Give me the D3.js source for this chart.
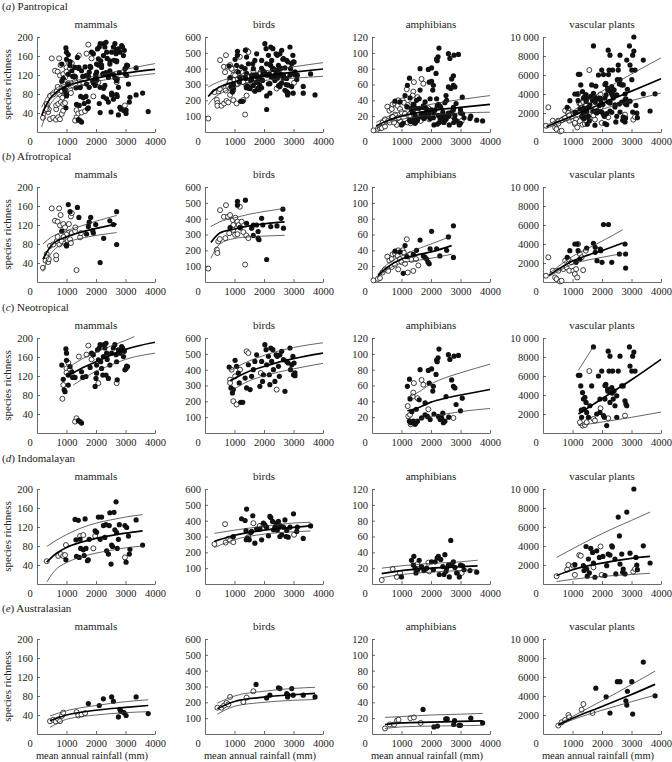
<!DOCTYPE html>
<html><head><meta charset="utf-8">
<script src="https://cdn.jsdelivr.net/npm/d3@7"></script>
<style>
body{margin:0;background:#fff;}
svg text{font-family:"Liberation Serif","Times New Roman",serif;fill:#222;}
</style></head><body><svg id="c" width="672" height="762"></svg>
<script>
// ---------- labels ----------
const regionNames = ["Pantropical","Afrotropical","Neotropical","Indomalayan","Australasian"];
const regionLetters = ["a","b","c","d","e"];
const taxa = ["mammals","birds","amphibians","vascular plants"];
const xTickValues = [1000,2000,3000,4000];
const mammalTicks = [40,80,120,160,200];
const birdTicks = [100,200,300,400,500,600];
const amphTicks = [20,40,60,80,100,120];
const plantTicks = [2000,4000,6000,8000,10000];
const yMaxes = [200,600,120,10000];

// ---------- Afrotropical ----------
const afroMammalsOpen = [[200,30],[330,59],[330,52],[290,45],[380,42],[400,48],[440,76],[550,79],[500,155],[610,129],[650,48],[650,56],[670,86],[700,127],[750,155],[760,79],[780,119],[800,141],[840,86],[890,122],[950,115],[950,81],[1040,86],[1060,103],[1080,122],[1120,90],[1150,82],[1150,138],[1180,145],[1180,103],[1290,107],[1340,25],[1460,94],[1490,103],[1300,115],[1000,100],[900,95],[700,95]];
const afroMammalsFilled = [[840,107],[1000,79],[1000,76],[1060,163],[1120,148],[1370,157],[1420,136],[1680,101],[1820,136],[1770,126],[1740,117],[1890,108],[1910,103],[1990,121],[2140,41],[2260,92],[2470,129],[2590,121],[2700,148],[2700,79]];
const afroMammalsFit = [[200,48],[500,78],[1000,95],[1500,105],[2000,113],[2700,122]];
const afroMammalsUpper = [[200,80],[500,95],[1000,108],[1500,118],[2000,128],[2700,140]];
const afroMammalsLower = [[200,22],[500,62],[1000,83],[1500,92],[2000,98],[2700,104]];

const afroBirdsOpen = [[110,85],[400,204],[420,183],[450,256],[500,271],[510,454],[640,412],[710,485],[780,412],[850,423],[940,392],[1030,406],[1100,381],[1180,475],[1140,360],[1200,344],[960,329],[820,308],[690,277],[1020,298],[1100,302],[1300,315],[1400,294],[1470,277],[1360,110],[1240,381],[960,360]];
const afroBirdsFilled = [[850,344],[1100,510],[1100,485],[1370,517],[1410,371],[1580,340],[1640,360],[1750,360],[1800,319],[1800,277],[1830,267],[1640,294],[1920,402],[1960,360],[2090,142],[2230,350],[2440,354],[2580,402],[2640,460],[2660,340],[1180,344]];
const afroBirdsFit = [[200,250],[500,310],[1000,335],[1500,355],[2000,368],[2700,380]];
const afroBirdsUpper = [[200,350],[500,380],[1000,405],[1500,428],[2000,445],[2700,465]];
const afroBirdsLower = [[200,150],[500,240],[1000,275],[1500,285],[2000,290],[2700,295]];

const afroAmphOpen = [[50,2],[200,4],[270,5],[360,12],[440,16],[520,32],[590,27],[670,29],[700,35],[780,36],[870,33],[890,40],[950,29],[1000,25],[1040,40],[1080,37],[1120,23],[1180,54],[1210,12],[1290,35],[1340,28],[1400,14],[1490,29],[1570,21],[670,19],[780,22],[890,16],[550,14]];
const afroAmphFilled = [[780,39],[950,38],[1060,11],[1120,46],[1180,32],[1400,35],[1630,53],[1740,33],[1800,31],[1850,29],[1900,25],[1940,23],[1970,42],[2020,64],[2190,42],[2300,33],[2530,40],[2590,57],[2760,71],[2760,31],[1510,40]];
const afroAmphFit = [[200,8],[500,18],[1000,29],[1500,34],[2000,38],[2700,46]];
const afroAmphUpper = [[200,10],[500,22],[1000,33],[1500,41],[2000,48],[2700,58]];
const afroAmphLower = [[200,6],[500,15],[1000,24],[1500,27],[2000,30],[2700,35]];

const afroPlantsOpen = [[100,660],[180,2600],[330,1190],[410,480],[460,300],[580,60],[630,130],[520,1190],[690,1360],[800,1540],[890,1190],[750,2250],[860,2420],[970,2070],[1030,1190],[1080,840],[1120,1360],[1190,4000],[1250,2950],[1310,2600],[1360,1250],[1450,3300],[1160,480]];
const afroPlantsFilled = [[820,2600],[910,3300],[1080,4000],[1160,4000],[1190,3300],[1250,2420],[1120,2070],[1480,3580],[1710,4080],[1770,3120],[1830,2250],[1940,3470],[1960,3300],[2000,2070],[2050,6050],[2220,6050],[2330,2070],[2590,2950],[2780,4000],[2800,2950],[2800,1470],[1770,3650]];
const afroPlantsFit = [[200,700],[500,1300],[1000,2200],[1500,2800],[2000,3300],[2700,4100]];
const afroPlantsUpper = [[200,900],[500,1600],[1000,2700],[1500,3500],[2000,4300],[2700,5500]];
const afroPlantsLower = [[200,600],[500,1100],[1000,1900],[1500,2300],[2000,2600],[2700,3000]];

// ---------- Neotropical ----------
const neoMammalsOpen = [[860,72],[890,101],[1000,136],[1060,148],[1120,133],[1000,127],[1340,31],[1290,24],[1420,161],[1680,165],[1740,184],[1850,155],[2080,105],[2700,105],[1180,122]];
const neoMammalsFilled = [[840,143],[890,113],[920,91],[950,87],[980,177],[1000,168],[1060,101],[1060,122],[1120,140],[1180,129],[1210,117],[1290,117],[1400,26],[1460,24],[1510,21],[1510,129],[1550,117],[1660,119],[1800,138],[1850,168],[1910,165],[1970,98],[2000,115],[2020,126],[2020,143],[2050,175],[2080,154],[2110,179],[2140,186],[2160,150],[2190,136],[2230,122],[2250,161],[2270,186],[2300,179],[2340,189],[2340,122],[2360,168],[2380,155],[2420,115],[2470,143],[2530,168],[2590,179],[2640,186],[2680,165],[2700,150],[2720,112],[2760,175],[2810,168],[2870,182],[2900,179],[2930,161],[2960,172],[2980,133],[3020,136],[3040,141],[3070,140],[1000,153]];
const neoMammalsFit = [[1000,119],[1500,136],[2000,150],[2500,164],[3000,176],[4000,191]];
const neoMammalsUpper = [[1000,135],[1500,155],[2000,170],[2500,183],[3000,195],[3300,203]];
const neoMammalsLower = [[1230,101],[1500,112],[2000,130],[2500,143],[3000,155],[4000,168]];

const neoBirdsOpen = [[850,337],[850,316],[900,400],[960,201],[1070,180],[1190,400],[1410,516],[1470,505],[1890,379],[2430,274],[1020,358]];
const neoBirdsFilled = [[820,417],[880,285],[930,253],[960,274],[1020,459],[1070,421],[1130,379],[1160,316],[1210,194],[1280,194],[1360,347],[1410,285],[1470,431],[1530,274],[1580,358],[1640,400],[1690,452],[1750,494],[1860,295],[1920,452],[1950,326],[1980,368],[2030,558],[2070,526],[2090,431],[2150,484],[2180,368],[2200,305],[2230,537],[2260,452],[2300,526],[2320,400],[2370,326],[2410,494],[2450,484],[2490,421],[2520,358],[2540,494],[2600,516],[2660,463],[2710,263],[2770,452],[2820,442],[2880,537],[2900,400],[2940,431],[2980,484],[3000,368],[3020,442],[3050,362],[3050,380]];
const neoBirdsFit = [[850,330],[1000,345],[1500,390],[2000,420],[2500,448],[3000,470],[4000,505]];
const neoBirdsUpper = [[850,395],[1000,410],[1500,455],[2000,490],[2500,518],[3000,540],[4000,570]];
const neoBirdsLower = [[850,265],[1000,280],[1500,330],[2000,360],[2500,385],[3000,405],[4000,440]];

const neoAmphOpen = [[1210,34],[1230,21],[1290,23],[1310,11],[1400,51],[1380,46],[1420,63],[1540,44],[1680,67],[1740,61],[1910,30],[2760,19]];
const neoAmphFilled = [[1200,59],[1270,68],[1290,43],[1270,15],[1320,13],[1400,15],[1460,11],[1490,13],[1540,15],[1600,42],[1630,80],[1680,19],[1800,23],[1880,21],[1910,79],[1940,63],[1970,17],[2020,81],[2060,53],[2080,59],[2170,74],[2190,92],[2210,90],[2240,95],[2270,106],[2310,17],[2360,19],[2420,13],[2510,46],[2590,99],[2640,93],[2700,67],[2760,59],[2780,97],[2810,57],[2850,36],[2930,98],[3000,28],[3060,44],[2470,15],[2250,21],[1350,27],[1500,30],[2400,25],[2100,24],[1800,38],[2600,20]];
const neoAmphFit = [[1200,28],[1500,31],[2000,39],[2500,44],[3000,48],[4000,55]];
const neoAmphUpper = [[1200,45],[1500,50],[2000,62],[2500,70],[3000,76],[4000,87]];
const neoAmphLower = [[1450,16],[2000,21],[2500,24],[3000,27],[4000,31]];

const neoPlantsOpen = [[1250,1130],[1340,780],[1420,850],[1570,6520],[1710,1480],[1760,1300],[1950,2600],[2210,1550],[2780,1830],[1480,1130]];
const neoPlantsFilled = [[1250,6070],[1310,1650],[1280,4960],[1340,4260],[1370,3570],[1390,2520],[1420,3740],[1460,3220],[1480,2170],[1540,1650],[1590,2870],[1650,4960],[1710,9060],[1880,6000],[1930,3570],[1990,6520],[2050,1830],[2080,1650],[2100,3570],[2130,5130],[2160,780],[2190,4610],[2210,8610],[2240,6520],[2270,8090],[2290,4260],[2330,4780],[2360,6520],[2380,3570],[2410,4430],[2440,2870],[2500,1650],[2550,6520],[2610,8090],[2670,4960],[2720,4960],[2780,3390],[2810,3040],[2840,2870],[2930,9060],[2950,7040],[3010,6520],[3040,8090],[3080,8520],[3120,6520],[1930,2170],[1820,2000],[2270,3220],[2500,3910],[1200,6070],[1300,2400],[2100,5000],[2200,4400],[2350,4200]];
const neoPlantsFit = [[1200,2000],[1600,2800],[2000,3600],[2500,4600],[3000,5600],[4000,7750]];
const neoPlantsUpper = [[1200,6600],[1700,9060]];
const neoPlantsLower = [[1200,780],[2000,1150],[3000,1650],[4000,2200]];

// ---------- Indomalayan ----------
const indoMammalsOpen = [[330,48],[720,59],[810,63],[890,59],[980,82],[950,61],[1460,101],[1570,103],[1910,75],[1970,101],[2980,56]];
const indoMammalsFilled = [[980,51],[1290,136],[1340,58],[1400,134],[1430,56],[1320,93],[1460,94],[1480,75],[1570,72],[1630,137],[1660,75],[1710,49],[1740,51],[1770,94],[1970,112],[2020,109],[2080,141],[2140,94],[2190,141],[2250,123],[2300,98],[2340,125],[2360,70],[2420,63],[2450,123],[2470,150],[2510,42],[2530,82],[2560,79],[2610,151],[2640,114],[2680,173],[2700,108],[2720,75],[2760,94],[2790,125],[2980,123],[3020,46],[3040,119],[3130,63],[3150,73],[3100,101],[3360,135],[3580,82],[1600,60]];
const indoMammalsFit = [[330,46],[600,62],[1000,77],[1500,88],[2000,96],[2500,102],[3000,107],[3580,112]];
const indoMammalsUpper = [[330,79],[600,90],[1000,104],[1500,118],[2000,128],[2500,135],[3000,141],[3580,146]];
const indoMammalsLower = [[330,4],[600,28],[1000,45],[1500,57],[2000,65],[2500,71],[3000,76],[3580,80]];

const indoBirdsOpen = [[320,252],[680,378],[700,262],[790,286],[850,275],[960,264],[1470,296],[1640,384],[1860,367],[1980,374],[3020,311]];
const indoBirdsFilled = [[960,300],[1240,412],[1360,401],[1410,473],[1390,338],[1440,290],[1500,279],[1550,325],[1580,332],[1620,431],[1690,258],[1750,347],[1860,347],[1920,279],[1980,384],[2030,374],[2090,359],[2150,304],[2200,427],[2230,420],[2290,395],[2320,342],[2370,359],[2410,384],[2490,395],[2520,359],[2540,300],[2560,367],[2600,311],[2660,359],[2710,405],[2750,300],[2770,338],[2820,296],[2880,359],[3000,443],[3110,332],[3130,359],[3330,288],[3580,367],[1400,280],[2450,340]];
const indoBirdsFit = [[320,269],[1000,308],[2000,340],[3000,358],[3580,367]];
const indoBirdsUpper = [[320,320],[1000,340],[2000,365],[3000,385],[3580,390]];
const indoBirdsLower = [[320,230],[1000,280],[2000,315],[3000,330],[3580,335]];

const indoAmphOpen = [[330,5],[700,19],[840,9],[950,14],[1540,25],[1910,27],[1940,16],[3040,14]];
const indoAmphFilled = [[1000,9],[1340,30],[1400,24],[1420,35],[1460,20],[1490,14],[1600,30],[1680,22],[1760,17],[1850,20],[2020,28],[2140,28],[2210,33],[2250,35],[2280,12],[2330,31],[2400,22],[2440,12],[2470,37],[2510,16],[2530,20],[2590,24],[2620,9],[2670,55],[2760,28],[2810,21],[2870,14],[2960,9],[3000,24],[3070,23],[3120,18],[3320,17],[3550,15],[2080,18],[1550,18],[2700,25]];
const indoAmphFit = [[330,13],[1000,17],[2000,20],[3000,22],[3580,23]];
const indoAmphUpper = [[330,20],[1000,23],[2000,26],[3000,28],[3580,30]];
const indoAmphLower = [[330,8],[1000,12],[2000,15],[3000,17],[3580,18]];

const indoPlantsOpen = [[460,820],[820,1510],[860,2000],[1030,1930],[1080,960],[1230,3040],[1280,2970],[1710,1760],[1950,3950],[1990,960],[3060,1300],[3120,1580]];
const indoPlantsFilled = [[1080,2030],[1370,1930],[1390,1410],[1460,3950],[1480,1580],[1500,820],[1540,2630],[1570,1170],[1620,3740],[1680,3320],[1710,2210],[1760,710],[1820,3490],[1910,2800],[2030,2900],[2100,890],[2160,1930],[2210,3150],[2270,3040],[2330,4020],[2440,2630],[2470,1060],[2550,7040],[2590,5060],[2610,2100],[2670,3150],[2700,1230],[2720,1580],[2780,1060],[2840,7570],[2950,3250],[3080,10000],[3150,2800],[3180,2000],[3200,1510],[3400,4020],[3630,2210],[2350,3900]];
const indoPlantsFit = [[460,890],[1000,1500],[2000,2200],[3000,2700],[3630,2900]];
const indoPlantsUpper = [[460,2800],[1000,3700],[2000,5300],[3000,6700],[3630,7570]];
const indoPlantsLower = [[460,260],[1000,500],[2000,800],[3000,1000],[3630,1130]];

// ---------- Australasian ----------
const ausMammalsOpen = [[440,27],[550,30],[640,26],[720,31],[780,27],[840,38],[890,45],[1340,46],[1400,39],[1510,41],[1630,44]];
const ausMammalsFilled = [[1740,64],[2110,60],[2250,74],[2530,78],[2590,69],[2760,36],[2810,52],[2840,48],[2950,45],[3020,39],[3360,78],[3770,43]];
const ausMammalsFit = [[440,28],[1000,40],[2000,50],[3000,56],[3770,60]];
const ausMammalsUpper = [[440,38],[1000,49],[2000,60],[3000,68],[3770,72]];
const ausMammalsLower = [[440,14],[1000,31],[2000,40],[3000,45],[3770,47]];

const ausBirdsOpen = [[420,166],[560,166],[650,180],[730,196],[790,187],[850,234],[1300,202],[1410,230],[1640,270]];
const ausBirdsFilled = [[1730,313],[2090,228],[2200,245],[2490,292],[2540,287],[2770,255],[2800,234],[2820,245],[2940,287],[2990,245],[3330,245],[3730,234]];
const ausBirdsFit = [[420,160],[1000,205],[2000,233],[3000,248],[3730,256]];
const ausBirdsUpper = [[420,195],[1000,240],[2000,270],[3000,288],[3730,295]];
const ausBirdsLower = [[420,125],[1000,175],[2000,200],[3000,213],[3730,218]];

const ausAmphOpen = [[440,7],[600,12],[750,12],[850,17],[900,18],[1300,20],[1420,21],[1650,14]];
const ausAmphFilled = [[1730,31],[2100,9],[2220,10],[2500,19],[2550,19],[2770,12],[2800,17],[2950,11],[3000,11],[3350,20],[3750,14]];
const ausAmphFit = [[440,12],[1000,14],[2000,15],[3000,16],[3750,16.5]];
const ausAmphUpper = [[440,21],[1000,22],[2000,24],[3000,25],[3750,26]];
const ausAmphLower = [[440,7],[1000,9],[2000,10],[3000,10.5],[3750,11]];

const ausPlantsOpen = [[520,890],[630,1230],[750,1480],[860,2000],[890,1760],[1370,3150],[1310,2560],[1680,2210]];
const ausPlantsFilled = [[1790,4820],[2140,3910],[2270,2210],[2520,5510],[2610,5510],[2810,3490],[2840,3040],[2860,4500],[3010,5510],[3040,2100],[3400,7570],[3800,4020]];
const ausPlantsFit = [[520,960],[1000,1650],[2000,2900],[3000,4150],[3800,5230]];
const ausPlantsUpper = [[520,1060],[1000,1850],[2000,3500],[3000,5200],[3800,6620]];
const ausPlantsLower = [[520,890],[1000,1500],[2000,2500],[3000,3400],[3800,4090]];

// ---------- Pantropical fits (points are the union of the regions) ----------
const pantMammalsFit = [[160,35],[300,55],[440,70],[700,86],[1000,97],[1500,106],[2140,115],[3000,124],[4000,132]];
const pantMammalsUpper = [[160,52],[300,70],[440,82],[700,94],[1000,102],[1500,111],[2140,120],[3000,132],[4000,144]];
const pantMammalsLower = [[160,11],[300,38],[440,57],[700,76],[1000,88],[1500,99],[2140,108],[3000,116],[4000,123]];
const pantBirdsFit = [[110,224],[300,262],[500,285],[960,316],[2090,357],[3000,378],[4000,398]];
const pantBirdsUpper = [[110,285],[500,320],[1000,345],[2000,385],[3000,412],[4000,438]];
const pantBirdsLower = [[110,172],[300,215],[500,240],[1000,285],[2000,325],[3000,340],[4000,352]];
const pantAmphFit = [[140,8],[500,14],[1000,20],[2000,27],[3000,31],[4000,35]];
const pantAmphUpper = [[140,12],[500,19],[1000,26],[2000,35],[3000,41],[4000,46]];
const pantAmphLower = [[140,4],[500,11],[1000,16],[2000,21],[3000,24],[4000,25]];
const pantPlantsFit = [[120,550],[1000,1700],[2000,3000],[3000,4300],[4000,5600]];
const pantPlantsUpper = [[120,700],[1000,2200],[2000,4300],[3000,6100],[4000,7800]];
const pantPlantsLower = [[120,400],[1000,1400],[2000,2400],[3000,3300],[4000,4100]];

// ---------- panel table ----------
const regionalSets = [
  [[afroMammalsOpen,afroMammalsFilled,afroMammalsFit,afroMammalsUpper,afroMammalsLower],
   [afroBirdsOpen,afroBirdsFilled,afroBirdsFit,afroBirdsUpper,afroBirdsLower],
   [afroAmphOpen,afroAmphFilled,afroAmphFit,afroAmphUpper,afroAmphLower],
   [afroPlantsOpen,afroPlantsFilled,afroPlantsFit,afroPlantsUpper,afroPlantsLower]],
  [[neoMammalsOpen,neoMammalsFilled,neoMammalsFit,neoMammalsUpper,neoMammalsLower],
   [neoBirdsOpen,neoBirdsFilled,neoBirdsFit,neoBirdsUpper,neoBirdsLower],
   [neoAmphOpen,neoAmphFilled,neoAmphFit,neoAmphUpper,neoAmphLower],
   [neoPlantsOpen,neoPlantsFilled,neoPlantsFit,neoPlantsUpper,neoPlantsLower]],
  [[indoMammalsOpen,indoMammalsFilled,indoMammalsFit,indoMammalsUpper,indoMammalsLower],
   [indoBirdsOpen,indoBirdsFilled,indoBirdsFit,indoBirdsUpper,indoBirdsLower],
   [indoAmphOpen,indoAmphFilled,indoAmphFit,indoAmphUpper,indoAmphLower],
   [indoPlantsOpen,indoPlantsFilled,indoPlantsFit,indoPlantsUpper,indoPlantsLower]],
  [[ausMammalsOpen,ausMammalsFilled,ausMammalsFit,ausMammalsUpper,ausMammalsLower],
   [ausBirdsOpen,ausBirdsFilled,ausBirdsFit,ausBirdsUpper,ausBirdsLower],
   [ausAmphOpen,ausAmphFilled,ausAmphFit,ausAmphUpper,ausAmphLower],
   [ausPlantsOpen,ausPlantsFilled,ausPlantsFit,ausPlantsUpper,ausPlantsLower]]
];
const pantFits = [
  [pantMammalsFit,pantMammalsUpper,pantMammalsLower],
  [pantBirdsFit,pantBirdsUpper,pantBirdsLower],
  [pantAmphFit,pantAmphUpper,pantAmphLower],
  [pantPlantsFit,pantPlantsUpper,pantPlantsLower]
];
const panelData = [];
panelData.push(taxa.map((t,c) => ({
  open: [].concat(...regionalSets.map(r => r[c][0])),
  filled: [].concat(...regionalSets.map(r => r[c][1])),
  fit: pantFits[c][0], upper: pantFits[c][1], lower: pantFits[c][2]
})));
regionalSets.forEach(r => panelData.push(r.map(s => ({open:s[0],filled:s[1],fit:s[2],upper:s[3],lower:s[4]}))));

// ---------- drawing ----------
const colX = [37,205,372,543];
const rowTop = [37,187,338,489,639];
const W = 118, H = 95;
const yTickSets = [mammalTicks,birdTicks,amphTicks,plantTicks];
const fmt = v => v >= 10000 ? "10 000" : String(v);
const svg = d3.select("#c");
const FS = 10.5;

regionNames.forEach((name, r) => {
  const top = rowTop[r], bottom = top + H;
  const lab = svg.append("text").attr("x", 2).attr("y", top - 27.5).attr("font-size", 11);
  lab.append("tspan").text("(");
  lab.append("tspan").attr("font-style","italic").text(regionLetters[r]);
  lab.append("tspan").text(") " + name);

  taxa.forEach((taxon, c) => {
    const x0 = colX[c];
    const x = d3.scaleLinear().domain([0,4000]).range([x0, x0 + W]);
    const y = d3.scaleLinear().domain([0, yMaxes[c]]).range([bottom, top]);
    const g = svg.append("g");
    const d = panelData[r][c];

    g.append("text").attr("x", x0 + W/2).attr("y", top - 9.5).attr("text-anchor","middle")
      .attr("font-size", 11).text(taxon);

    const xa = g.append("g").attr("transform", `translate(0,${bottom})`)
      .call(d3.axisBottom(x).tickValues(xTickValues).tickSizeInner(-3).tickSizeOuter(0).tickPadding(6).tickFormat(fmt));
    const ya = g.append("g").attr("transform", `translate(${x0},0)`)
      .call(d3.axisLeft(y).tickValues(yTickSets[c]).tickSizeInner(-3).tickSizeOuter(0).tickPadding(4).tickFormat(fmt));
    [xa, ya].forEach(a => {
      a.selectAll("path,line").attr("stroke","#444").attr("stroke-width",0.8);
      a.selectAll("text").attr("font-size", FS).attr("font-family",'"Liberation Serif",serif').attr("fill","#222");
    });
    g.append("text").attr("x", x0 - 7).attr("y", bottom + 6).attr("dy","0.71em")
      .attr("text-anchor","middle").attr("font-size", FS).text("0");

    if (c === 0) {
      g.append("text").attr("transform", `translate(11,${top + H/2}) rotate(-90)`)
        .attr("text-anchor","middle").attr("font-size", 11).text("species richness");
    }
    if (r === 4) {
      g.append("text").attr("x", x0 + 55).attr("y", bottom + 25).attr("text-anchor","middle")
        .attr("font-size", 10.5).text("mean annual rainfall (mm)");
    }

    g.selectAll("circle.o").data(d.open).join("circle").attr("class","o")
      .attr("cx", p => x(p[0])).attr("cy", p => y(p[1])).attr("r", 2.5)
      .attr("fill","#fff").attr("stroke","#111").attr("stroke-width",0.8);
    g.selectAll("circle.f").data(d.filled).join("circle").attr("class","f")
      .attr("cx", p => x(p[0])).attr("cy", p => y(p[1])).attr("r", 2.6)
      .attr("fill","#111");

    const line = d3.line().x(p => x(p[0])).y(p => y(p[1])).curve(d3.curveMonotoneX);
    [d.upper, d.lower].forEach(s => g.append("path").attr("d", line(s))
      .attr("fill","none").attr("stroke","#333").attr("stroke-width",0.75));
    g.append("path").attr("d", line(d.fit)).attr("fill","none").attr("stroke","#000").attr("stroke-width",1.7);
  });
});
</script></body></html>
